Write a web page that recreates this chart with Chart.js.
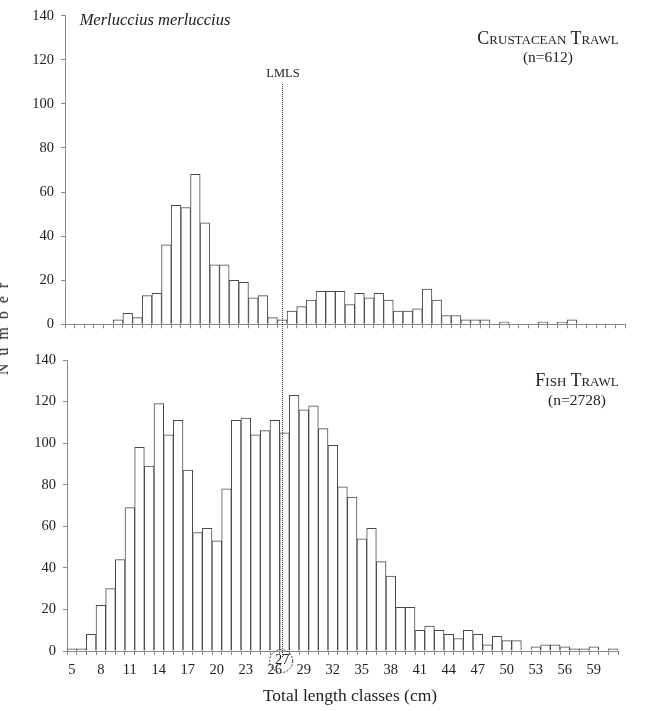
<!DOCTYPE html>
<html>
<head>
<meta charset="utf-8">
<script src="https://cdn.jsdelivr.net/npm/chart.js@4.4.1/dist/chart.umd.min.js"></script>
<style>
    body { margin: 0; background: #fff; }
    #wrap { position: relative; width: 651px; height: 711px; overflow: hidden; font-family: "Liberation Serif", "DejaVu Serif", serif; color: #222; }
    canvas { position: absolute; left: 0; }
    .txt { position: absolute; white-space: pre; transform: translate(-50%, -50%); line-height: 1; }
</style>
</head>
<body>
<div id="wrap">
    <canvas id="topChart" width="651" height="340" style="top:0"></canvas>
    <canvas id="bottomChart" width="651" height="371" style="top:340px"></canvas>
    <div class="txt" style="left:155px; top:20px; font-size:16.5px; font-style:italic;">Merluccius merluccius</div>
    <div class="txt" style="left:548px; top:38px; font-size:18px; font-variant:small-caps;">Crustacean Trawl</div>
    <div class="txt" style="left:548px; top:57px; font-size:15.5px;">(n=612)</div>
    <div class="txt" style="left:577px; top:380px; font-size:18px; font-variant:small-caps;">Fish Trawl</div>
    <div class="txt" style="left:577px; top:400px; font-size:15.5px;">(n=2728)</div>
    <div class="txt" style="left:283px; top:73px; font-size:12.5px;">LMLS</div>
    <div class="txt" style="left:3px; top:328px; font-size:16px; line-height:16px; letter-spacing:2px; transform: translate(-50%, -50%) rotate(-90deg);">N u m b e r</div>
    <div class="txt" style="left:350px; top:696px; font-size:17.5px;">Total length classes (cm)</div>
</div>
<script>
// length classes (cm)
const classesTop = [5, 6, 7, 8, 9, 10, 11, 12, 13, 14, 15, 16, 17, 18, 19, 20, 21, 22, 23, 24, 25, 26, 27, 28, 29, 30, 31, 32, 33,
    34, 35, 36, 37, 38, 39, 40, 41, 42, 43, 44, 45, 46, 47, 48, 49, 50, 51, 52, 53, 54, 55, 56, 57, 58, 59, 60, 61, 62];
const classesBottom = [5, 6, 7, 8, 9, 10, 11, 12, 13, 14, 15, 16, 17, 18, 19, 20, 21, 22, 23, 24, 25, 26, 27, 28, 29, 30, 31, 32, 33,
    34, 35, 36, 37, 38, 39, 40, 41, 42, 43, 44, 45, 46, 47, 48, 49, 50, 51, 52, 53, 54, 55, 56, 57, 58, 59, 60, 61];

// crustacean trawl (n=612)
const crustaceanTrawl = [0, 0, 0, 0, 0, 2, 5, 3, 13, 14, 36, 54, 53, 68, 46, 27, 27, 20, 19, 12, 13, 3, 2, 6, 8, 11, 15, 15, 15,
    9, 14, 12, 14, 11, 6, 6, 7, 16, 11, 4, 4, 2, 2, 2, 0, 1, 0, 0, 0, 1, 0, 1, 2, 0, 0, 0, 0, 0];

// fish trawl (n=2728)
const fishTrawl = [1, 1, 8, 22, 30, 44, 69, 98, 89, 119, 104, 111, 87, 57, 59, 53, 78, 111, 112, 104, 106, 111, 105, 123, 116, 118, 107, 99, 79,
    74, 54, 59, 43, 36, 21, 21, 10, 12, 10, 8, 6, 10, 8, 3, 7, 5, 5, 0, 2, 3, 3, 2, 1, 1, 2, 0, 1];

const yTicks = [0, 20, 40, 60, 80, 100, 120, 140];
const lmls = 27;        // minimum landing size
const lmlsTopValue = 109;

const axisColor = '#8a8a8a';
const barBorder = '#4a4a4a';
const tickFont = { family: 'Liberation Serif', size: 14.5 };

let lmlsX = null;

function baseOptions(labelCallback, yWidth, xHeight, padding) {
    return {
        responsive: false,
        animation: false,
        events: [],
        layout: { padding: padding },
        plugins: { legend: { display: false }, tooltip: { enabled: false } },
        scales: {
            x: {
                offset: true,
                grid: { offset: true, drawOnChartArea: false, tickLength: 4, color: axisColor },
                border: { color: axisColor },
                ticks: { autoSkip: false, maxRotation: 0, padding: 6, color: '#222', font: tickFont, callback: labelCallback },
                afterFit: s => { s.height = xHeight; }
            },
            y: {
                min: 0,
                max: 140,
                afterBuildTicks: s => { s.ticks = yTicks.map(v => ({ value: v })); },
                grid: { drawOnChartArea: false, tickLength: 4, color: axisColor },
                border: { color: axisColor },
                ticks: { padding: 7, color: '#222', font: tickFont },
                afterFit: s => { s.width = yWidth; }
            }
        }
    };
}

function barSet(values) {
    return {
        data: values,
        backgroundColor: '#fff',
        borderColor: barBorder,
        borderWidth: 1,
        barPercentage: 1,
        categoryPercentage: 1
    };
}

// Dotted LMLS line, top part
const lmlsTopPlugin = {
    id: 'lmlsTop',
    afterDraw(chart) {
        const ctx = chart.ctx;
        const x = chart.scales.x.getPixelForValue(classesTop.indexOf(lmls));
        lmlsX = x;
        const y0 = chart.scales.y.getPixelForValue(lmlsTopValue);
        ctx.save();
        ctx.strokeStyle = '#444';
        ctx.lineWidth = 1;
        ctx.setLineDash([1, 1]);
        ctx.beginPath();
        ctx.moveTo(Math.round(x) + 0.5, y0);
        ctx.lineTo(Math.round(x) + 0.5, chart.height);
        ctx.stroke();
        ctx.restore();
    }
};

// Dotted LMLS line, bottom part, with circled label
const lmlsBottomPlugin = {
    id: 'lmlsBottom',
    afterDraw(chart) {
        const ctx = chart.ctx;
        const area = chart.chartArea;
        const x = lmlsX !== null ? lmlsX : chart.scales.x.getPixelForValue(classesBottom.indexOf(lmls));
        const cy = area.bottom + 10;
        ctx.save();
        ctx.strokeStyle = '#444';
        ctx.lineWidth = 1;
        ctx.setLineDash([1, 1]);
        ctx.beginPath();
        ctx.moveTo(Math.round(x) + 0.5, 0);
        ctx.lineTo(Math.round(x) + 0.5, cy - 4);
        ctx.stroke();
        ctx.strokeStyle = '#333';
        ctx.setLineDash([2, 1.5]);
        ctx.beginPath();
        ctx.arc(x - 1, cy, 11.5, 0, Math.PI * 2);
        ctx.stroke();
        ctx.fillStyle = '#222';
        ctx.font = '14.5px "Liberation Serif"';
        ctx.textAlign = 'center';
        ctx.textBaseline = 'middle';
        ctx.fillText(String(lmls), x, cy - 1);
        ctx.restore();
    }
};

new Chart(document.getElementById('topChart'), {
    type: 'bar',
    data: { labels: classesTop, datasets: [barSet(crustaceanTrawl)] },
    options: baseOptions(() => '', 65, 13, { left: 0, right: 26, top: 10, bottom: 0 }),
    plugins: [lmlsTopPlugin]
});

new Chart(document.getElementById('bottomChart'), {
    type: 'bar',
    data: { labels: classesBottom, datasets: [barSet(fishTrawl)] },
    options: baseOptions((v, i) => ((classesBottom[i] - 5) % 3 === 0 ? String(classesBottom[i]) : ''), 67, 60,
        { left: 0, right: 33, top: 20, bottom: 0 }),
    plugins: [lmlsBottomPlugin]
});
</script>
</body>
</html>
